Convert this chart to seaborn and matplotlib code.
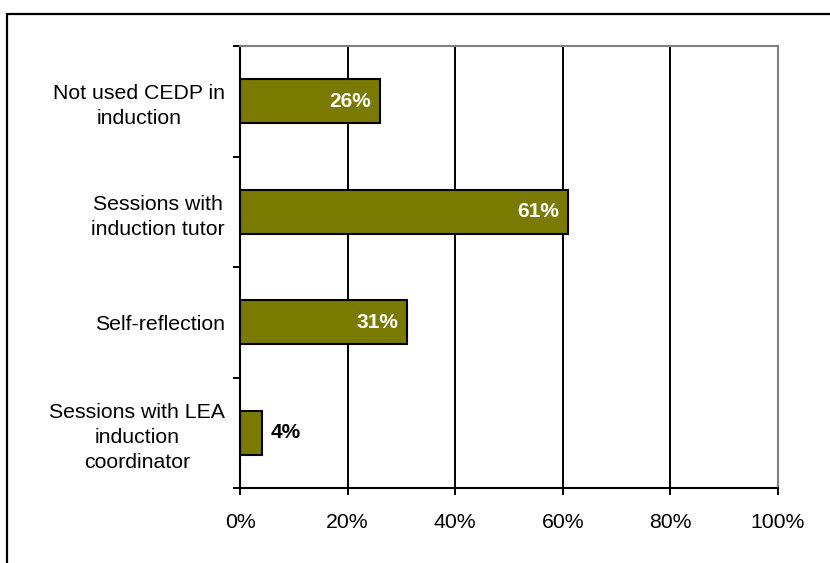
import matplotlib
matplotlib.use("Agg")
import matplotlib.pyplot as plt
from matplotlib.patches import Rectangle
import seaborn as sns
import pandas as pd

categories = [
    "Not used CEDP in\ninduction",
    "Sessions with\ninduction tutor",
    "Self-reflection",
    "Sessions with LEA\ninduction\ncoordinator",
]
values = [26, 61, 31, 4]
x_ticks = [0, 20, 40, 60, 80, 100]
x_tick_labels = ["0%", "20%", "40%", "60%", "80%", "100%"]

sns.set_theme(style="white")
plt.rcParams["font.family"] = ["Liberation Sans", "DejaVu Sans"]
plt.rcParams["text.color"] = "black"
plt.rcParams["xtick.color"] = "black"
plt.rcParams["ytick.color"] = "black"

df = pd.DataFrame({"category": categories, "value": values})

fig = plt.figure(figsize=(8.3, 5.63), dpi=100)
ax = fig.add_axes([240 / 830, 1 - 488 / 563, 538 / 830, 442 / 563])

# outer frame of the chart area
fig.patches.append(Rectangle((7 / 830, -0.05), 1.1, 1 - 14 / 563 + 0.05,
                             transform=fig.transFigure, fill=False,
                             edgecolor="black", linewidth=1.6, zorder=0))

sns.barplot(data=df, x="value", y="category", orient="h", color="#7a7a00",
            saturation=1, width=0.4, edgecolor="black", linewidth=1.5, ax=ax,
            zorder=3)

fs = 15.3
ax.set_xlim(0, 100)
ax.set_ylim(len(categories) - 0.5, -0.5)
ax.set_xticks(x_ticks)
ax.set_xticklabels(x_tick_labels, fontsize=fs, color="black")
ax.set_xlabel("")
ax.set_ylabel("")

# vertical gridlines
for t in x_ticks[1:-1]:
    ax.axvline(t, color="black", linewidth=1.4, zorder=1)

# category labels centered; ticks at category boundaries
ax.set_yticks(range(len(categories)))
ax.set_yticklabels(categories, fontsize=fs, multialignment="center",
                   color="black", linespacing=1.4)
ax.tick_params(axis="y", which="major", length=0, pad=11)
ax.set_yticks([i - 0.5 for i in range(len(categories) + 1)], minor=True)
ax.tick_params(axis="y", which="minor", left=True, length=5, width=1.4,
               color="black", direction="out")
ax.tick_params(axis="x", which="major", bottom=True, length=5, width=1.4,
               color="black", direction="out", pad=13)

for side in ["left", "bottom"]:
    ax.spines[side].set_color("black")
    ax.spines[side].set_linewidth(1.5)
for side in ["top", "right"]:
    ax.spines[side].set_color("#808080")
    ax.spines[side].set_linewidth(1.5)
for sp in ax.spines.values():
    sp.set_zorder(4)

# value labels
for i, v in enumerate(values):
    if v >= 10:
        ax.text(v - 1.6, i, f"{v}%", ha="right", va="center", color="white",
                fontsize=15, fontweight="bold", zorder=5)
    else:
        ax.text(v + 1.6, i, f"{v}%", ha="left", va="center", color="black",
                fontsize=15, fontweight="bold", zorder=5)

fig.savefig("out.png", dpi=100)
